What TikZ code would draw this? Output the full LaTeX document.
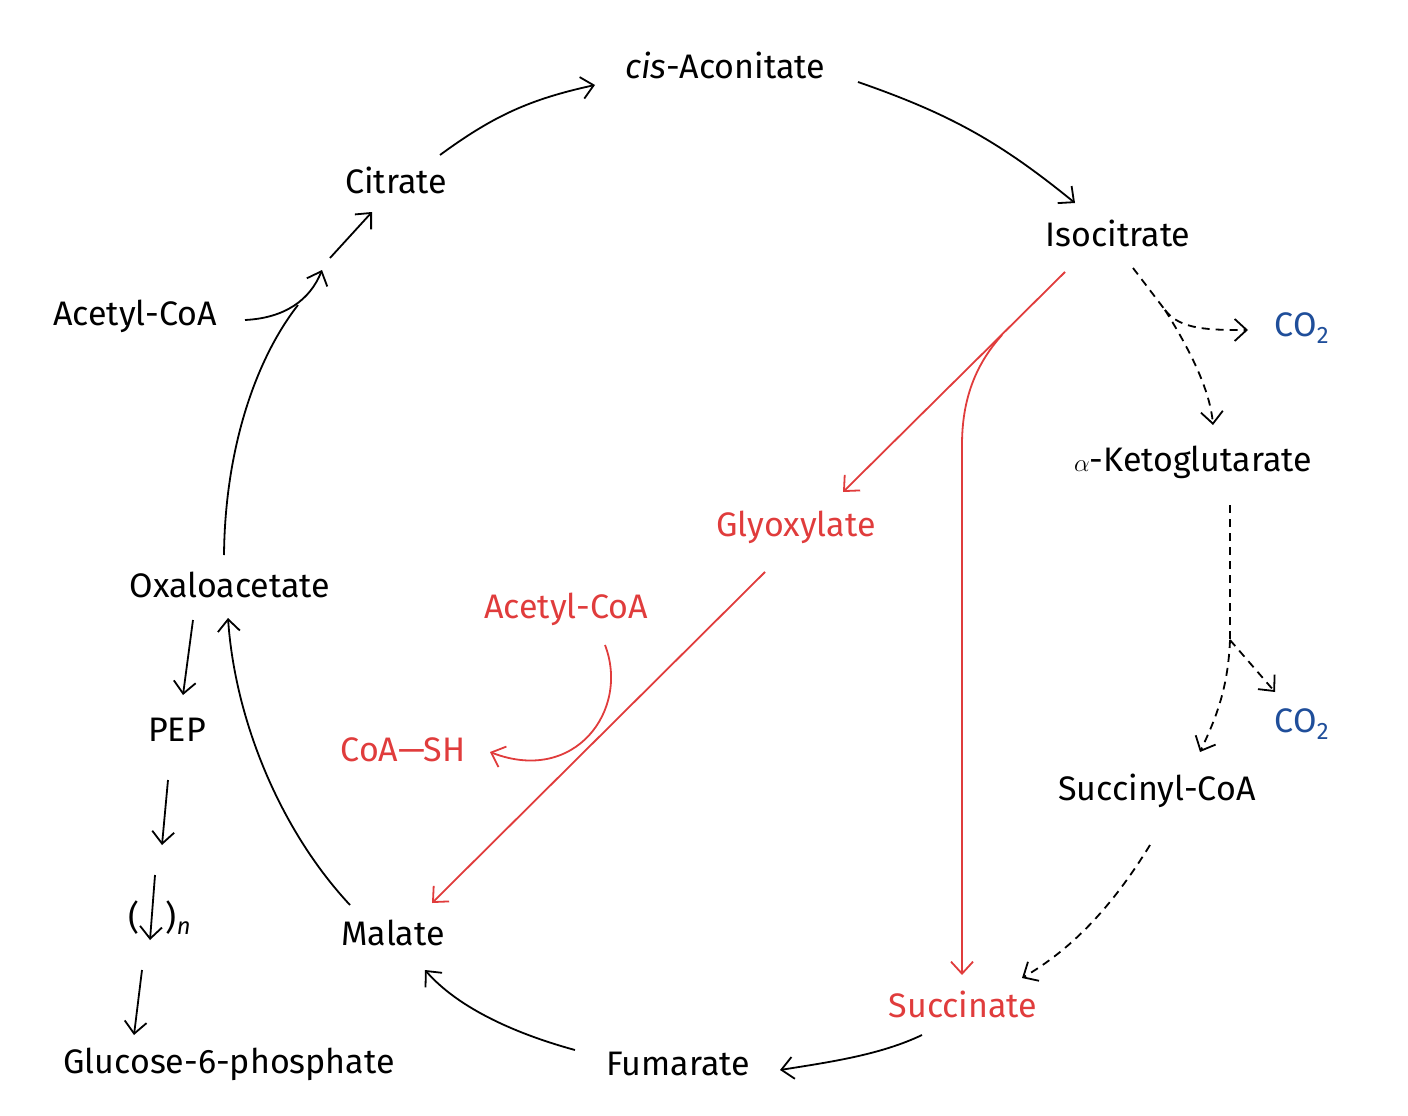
\documentclass[tikz,border=0pt]{standalone}
\usepackage{fontspec}
\setmainfont{Fira Sans}
\usetikzlibrary{arrows.meta}
\definecolor{rd}{HTML}{E03C3C}
\definecolor{bl}{HTML}{1F4E9A}
\begin{document}
\begin{tikzpicture}[x=1pt,y=-1pt,
  lab/.style={font=\fontsize{34}{36}\selectfont,inner sep=0pt},
  ar/.style={line width=1.8pt,-{Straight Barb[length=12pt,width=22pt,line width=1.8pt]}},
  ln/.style={line width=1.8pt},
  da/.style={ar,dashed,dash pattern=on 8pt off 6pt},
  dl/.style={ln,dashed,dash pattern=on 8pt off 6pt}]
\useasboundingbox (0,0) rectangle (1408,1116);
\node[lab] (cis) at (725,65) {\textit{cis}-Aconitate};
\node[lab] (cit) at (396,180) {Citrate};
\node[lab] (iso) at (1118,233) {Isocitrate};
\node[lab] (ac1) at (135,316) {Acetyl-CoA};
\node[lab,bl] (co1) at (1302,328) {CO\textsubscript{2}};
\node[lab] (akg) at (1193,462) {$\alpha$-Ketoglutarate};
\node[lab,rd] (gly) at (796,527) {Glyoxylate};
\node[lab] (oaa) at (230,585) {Oxaloacetate};
\node[lab,rd] (ac2) at (566,609) {Acetyl-CoA};
\node[lab,bl] (co2) at (1302,724) {CO\textsubscript{2}};
\node[lab] (pep) at (177,730) {PEP};
\node[lab,rd] (coa) at (403,750) {CoA—SH};
\node[lab] (scoa) at (1157,791) {Succinyl-CoA};
\node[lab] (poly) at (160,918) {(\hspace{26pt})\textsubscript{\textit{n}}};
\node[lab] (mal) at (393,933) {Malate};
\node[lab,rd] (suc) at (963,1004) {Succinate};
\node[lab] (g6p) at (229,1064) {Glucose-6-phosphate};
\node[lab] (fum) at (678,1064) {Fumarate};
% cycle
\draw[ar] (440,155) to[bend left=12] (595,85);
\draw[ar] (858,82) to[bend left=10] (1075,203);
\coordinate (b1) at (1165,310);
\draw[dl] (1133,268) -- (b1);
\draw[da] (b1) .. controls (1190,350) and (1210,390) .. (1213,425);
\draw[da] (b1) .. controls (1180,330) and (1210,330) .. (1248,330);
\coordinate (b2) at (1230,640);
\draw[dl] (1230,505) -- (b2);
\draw[da] (b2) .. controls (1228,690) and (1215,720) .. (1200,752);
\draw[da] (b2) -- (1275,692);
\draw[da] (1150,845) .. controls (1110,910) and (1070,950) .. (1022,978);
\draw[ar] (922,1035) .. controls (880,1055) and (830,1062) .. (780,1070);
\draw[ar] (575,1050) .. controls (520,1035) and (460,1010) .. (425,970);
\draw[ar] (350,905) .. controls (280,830) and (235,720) .. (228,618);
\draw[ln] (224,555) .. controls (225,450) and (255,360) .. (298,305);
\draw[ar] (245,320) .. controls (285,318) and (310,300) .. (322,270);
\draw[ar] (330,258) -- (372,212);
% red
\coordinate (r1) at (1002,335);
\draw[ar,rd] (1065,272) -- (843,492);
\draw[ar,rd] (r1) .. controls (975,365) and (962,400) .. (962,445) -- (962,975);
\draw[ar,rd] (765,572) -- (432,903);
\draw[ar,rd] (605,645) .. controls (630,710) and (575,785) .. (490,752);
% gluconeogenesis
\draw[ar] (193,620) -- (183,695);
\draw[ar] (168,780) -- (162,845);
\draw[ar] (155,875) -- (150,940);
\draw[ar] (142,970) -- (134,1035);
\end{tikzpicture}
\end{document}
